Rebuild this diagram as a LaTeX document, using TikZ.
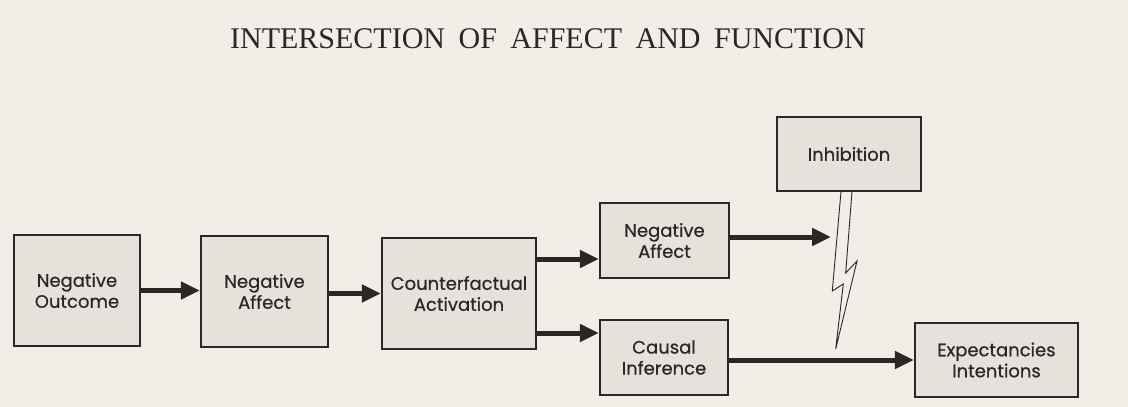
\documentclass[tikz,border=0pt]{standalone}
\usepackage{fontspec}
\setmainfont{Liberation Serif}
\newfontfamily\boxfont[FakeBold=0.6]{Poppins}
\usetikzlibrary{arrows.meta}
\definecolor{paper}{HTML}{F1EEE7}
\definecolor{boxfill}{HTML}{E5E2DB}
\definecolor{ink}{HTML}{2A2726}
\tikzset{
  stagebox/.style={draw=ink, line width=2.4pt, fill=boxfill, align=center, inner sep=0pt,
    font=\boxfont\fontsize{18}{21}\selectfont, text=ink},
  flow/.style={draw=ink, line width=5pt, -{Triangle[length=19pt,width=17pt]}},
  bolt/.style={draw=ink, line width=0.9pt, fill=paper, line join=miter}
}
\begin{document}
\begin{tikzpicture}[x=1pt,y=-1pt]
\fill[paper] (0,0) rectangle (1128,407);
\useasboundingbox (0,0) rectangle (1128,407);
\node[font=\fontsize{30}{34}\selectfont, text=ink, anchor=base, inner sep=0pt] (title) at (548,48) {INTERSECTION\hspace{0.45em}OF\hspace{0.45em}AFFECT\hspace{0.45em}AND\hspace{0.45em}FUNCTION};
\node[stagebox, minimum width=126pt, minimum height=111pt] (no) at (77,290.5) {Negative\\Outcome};
\node[stagebox, minimum width=127pt, minimum height=111pt] (na1) at (264.5,291.5) {Negative\\Affect};
\node[stagebox, minimum width=154pt, minimum height=111pt] (ca) at (459,293.5) {Counterfactual\\Activation};
\node[stagebox, minimum width=129pt, minimum height=75pt] (na2) at (664.5,240.5) {Negative\\Affect};
\node[stagebox, minimum width=128pt, minimum height=75pt] (ci) at (664,357.5) {Causal\\Inference};
\node[stagebox, minimum width=144pt, minimum height=74pt] (inh) at (849,154) {Inhibition};
\node[stagebox, minimum width=163pt, minimum height=74pt] (ei) at (996.5,360) {Expectancies\\Intentions};
\coordinate (bolthit) at (831,237);
\draw[flow] (no.east) -- (no.east -| na1.west);
\draw[flow] (na1.east |- ca.west) -- (ca.west);
\draw[flow] ([yshift=34.5pt]ca.east) -- ([yshift=34.5pt]ca.east -| na2.west);
\draw[flow] ([yshift=-39.5pt]ca.east) -- ([yshift=-39.5pt]ca.east -| ci.west);
\draw[flow] (na2.east |- bolthit) -- (bolthit);
\draw[flow] (ci.east |- ei.west) -- (ei.west);
\draw[bolt] (841,191.5) -- (852,191.5) -- (845.7,273) -- (857,261) -- (835.7,349) -- (843.3,284) -- (832.3,291) -- cycle;
\end{tikzpicture}
\end{document}
